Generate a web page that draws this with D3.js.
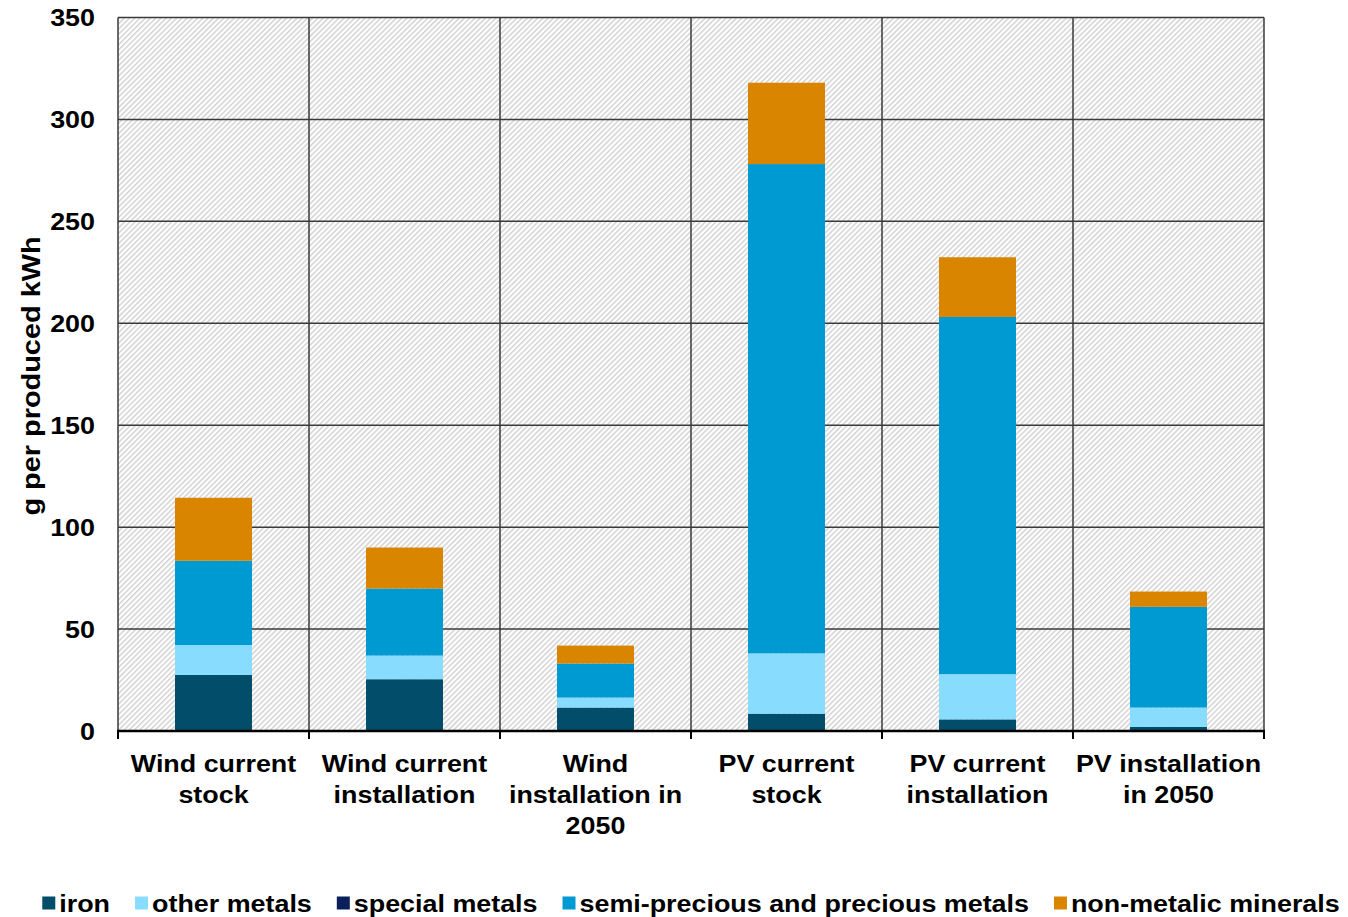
<!DOCTYPE html>
<html>
<head>
<meta charset="utf-8">
<script src="https://cdn.jsdelivr.net/npm/d3@7/dist/d3.min.js"></script>
<style>
  html, body { margin: 0; padding: 0; background: #fff; }
  svg text { font-family: "Liberation Sans", Arial, sans-serif; font-weight: bold; fill: #000; }
</style>
</head>
<body>
<svg id="chart" width="1348" height="917"></svg>
<script>
// Material intensity of wind and PV electricity, stacked by material group
const categories = [
  ["Wind current", "stock"],
  ["Wind current", "installation"],
  ["Wind", "installation in", "2050"],
  ["PV current", "stock"],
  ["PV current", "installation"],
  ["PV installation", "in 2050"]
];
const seriesNames = ["iron", "other metals", "special metals", "semi-precious and precious metals", "non-metalic minerals"];
const seriesColors = ["#024D69", "#88DDFF", "#0B1F5C", "#009AD3", "#D98500"];
const iron          = [27.5, 25.4, 11.5, 8.5, 5.7, 2.0];
const otherMetals   = [14.7, 11.6, 4.9, 29.6, 22.2, 9.5];
const specialMetals = [0, 0, 0, 0, 0, 0];
const semiPrecious  = [41.3, 32.9, 16.7, 240.0, 175.2, 49.4];
const nonMetallic   = [30.9, 20.1, 8.8, 39.9, 29.3, 7.5];
const yTicks = [0, 50, 100, 150, 200, 250, 300, 350];
const yLabel = "g per produced kWh";

const seriesValues = [iron, otherMetals, specialMetals, semiPrecious, nonMetallic];
const rows = categories.map((c, i) => {
  const r = { idx: i };
  seriesNames.forEach((s, j) => r[s] = seriesValues[j][i]);
  return r;
});

const svg = d3.select("#chart");
const margin = { left: 118, right: 84, top: 17.5, bottom: 186 };
const W = 1348, H = 917;
const x0 = margin.left, x1 = W - margin.right, y0 = H - margin.bottom, y1 = margin.top;
const stretch = 1.12;

const x = d3.scaleBand().domain(d3.range(categories.length)).range([x0, x1]).padding(0);
const y = d3.scaleLinear().domain([0, 350]).range([y0, y1]);
const barW = x.bandwidth() * 0.403;

// hatched plot background
const defs = svg.append("defs");
const pat = defs.append("pattern")
  .attr("id", "hatch").attr("patternUnits", "userSpaceOnUse")
  .attr("width", 3.7).attr("height", 10)
  .attr("patternTransform", "rotate(45)");
pat.append("rect").attr("width", 3.7).attr("height", 10).attr("fill", "#ffffff");
pat.append("rect").attr("width", 1.5).attr("height", 10).attr("fill", "#d2d2d2");

svg.append("rect").attr("x", x0).attr("y", y1).attr("width", x1 - x0).attr("height", y0 - y1)
  .attr("fill", "url(#hatch)");

// grid
const grid = svg.append("g").attr("stroke", "#3a3a3a").attr("stroke-width", 1.5);
grid.selectAll("line.h").data(yTicks.slice(1)).join("line")
  .attr("x1", x0).attr("x2", x1).attr("y1", d => y(d)).attr("y2", d => y(d));
grid.selectAll("line.v").data(d3.range(categories.length + 1)).join("line")
  .attr("x1", d => x0 + d * x.step()).attr("x2", d => x0 + d * x.step())
  .attr("y1", y1).attr("y2", y0);

// stacked bars
const stack = d3.stack().keys(seriesNames)(rows);
svg.append("g").selectAll("g").data(stack).join("g")
  .attr("fill", (d, i) => seriesColors[i])
  .selectAll("rect").data(d => d).join("rect")
  .attr("x", d => x(d.data.idx) + (x.bandwidth() - barW) / 2)
  .attr("width", barW)
  .attr("y", d => y(d[1]))
  .attr("height", d => Math.max(0, y(d[0]) - y(d[1])));

// x axis with ticks at category boundaries
const xAxis = svg.append("g");
xAxis.append("line").attr("x1", x0 - 1).attr("x2", x1 + 1).attr("y1", y0).attr("y2", y0)
  .attr("stroke", "#000").attr("stroke-width", 2.5);
xAxis.selectAll("line.t").data(d3.range(categories.length + 1)).join("line")
  .attr("x1", d => x0 + d * x.step()).attr("x2", d => x0 + d * x.step())
  .attr("y1", y0).attr("y2", y0 + 8).attr("stroke", "#000").attr("stroke-width", 2);

function stretchedText(g, tx, ty, str, size, anchor, rot) {
  return g.append("text")
    .attr("transform", `translate(${tx},${ty})` + (rot ? ` rotate(${rot})` : "") + ` scale(${stretch},1)`)
    .attr("text-anchor", anchor)
    .attr("font-size", size)
    .text(str);
}

// category labels
const catG = svg.append("g");
categories.forEach((lines, i) => {
  const cx = x(i) + x.bandwidth() / 2;
  lines.forEach((ln, k) => stretchedText(catG, cx, 772 + k * 31, ln, 24, "middle"));
});

// y tick labels
const yG = svg.append("g");
yTicks.forEach(t => stretchedText(yG, 95, y(t) + 8.5, String(t), 24, "end"));

// y axis title
stretchedText(svg, 40, 376, yLabel, 25.8, "middle", -90);

// legend
const leg = svg.append("g");
let cursor = 0;
seriesNames.forEach((s, i) => {
  const g = leg.append("g");
  g.append("rect").attr("x", cursor).attr("y", -6.5).attr("width", 13).attr("height", 13)
    .attr("fill", seriesColors[i]);
  const t = stretchedText(g, cursor + 17, 8.5, s, 24, "start");
  const w = t.node().getComputedTextLength() * stretch;
  cursor += 17 + w + 25;
});
const legW = cursor - 25;
leg.attr("transform", `translate(${(x0 + x1) / 2 - legW / 2},903)`);
</script>
</body>
</html>
